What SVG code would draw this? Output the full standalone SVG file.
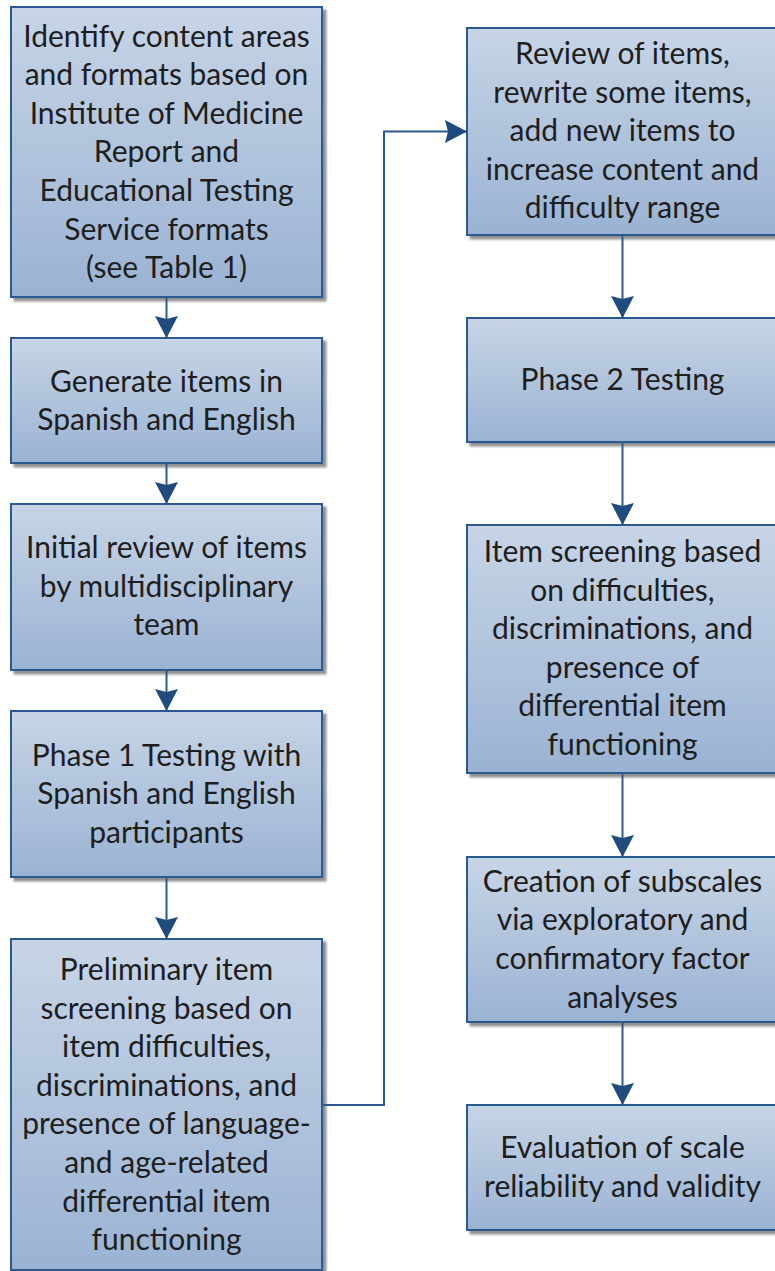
<svg xmlns="http://www.w3.org/2000/svg" width="775" height="1271" viewBox="0 0 775 1271">
<defs>
<linearGradient id="g" x1="0" y1="0" x2="0" y2="1">
<stop offset="0" stop-color="#c7d5e6"/>
<stop offset="1" stop-color="#9ab3d3"/>
</linearGradient>
<filter id="sh" x="-5%" y="-5%" width="115%" height="115%">
<feDropShadow dx="3.5" dy="3.5" stdDeviation="1.2" flood-color="#555555" flood-opacity="0.65"/>
</filter>
<marker id="ah" viewBox="0 0 22 23" refX="22" refY="11.5" markerWidth="22" markerHeight="23" markerUnits="userSpaceOnUse" orient="auto">
<path d="M0,0 L22,11.5 L0,23 L3,11.5 z" fill="#1f4b7e"/>
</marker>
<style>
.box{fill:url(#g);stroke:#2c5a8f;stroke-width:2;filter:url(#sh)}
.t{font-family:Lato,"Liberation Sans",sans-serif;font-size:30px;fill:#1e1e1e;text-anchor:middle}
.c{fill:none;stroke:#2c5a8f;stroke-width:2}
</style>
</defs>
<g id="n1"><rect class="box" x="11" y="7" width="311" height="290"/>
<text class="t"><tspan x="166.5" y="46.5">Identify content areas</tspan><tspan x="166.5" y="85.1">and formats based on</tspan><tspan x="166.5" y="123.7">Institute of Medicine</tspan><tspan x="166.5" y="162.3">Report and</tspan><tspan x="166.5" y="200.9">Educational Testing</tspan><tspan x="166.5" y="239.5">Service formats</tspan><tspan x="166.5" y="278.1">(see Table 1)</tspan></text></g>
<g id="n2"><rect class="box" x="11" y="338" width="311" height="125"/>
<text class="t"><tspan x="166.5" y="391.5">Generate items in</tspan><tspan x="166.5" y="430.1">Spanish and English</tspan></text></g>
<g id="n3"><rect class="box" x="11" y="504" width="311" height="166"/>
<text class="t"><tspan x="166.5" y="558">Initial review of items</tspan><tspan x="166.5" y="596.6">by multidisciplinary</tspan><tspan x="166.5" y="635.2">team</tspan></text></g>
<g id="n4"><rect class="box" x="11" y="711" width="311" height="166"/>
<text class="t"><tspan x="166.5" y="765.5">Phase 1 Testing with</tspan><tspan x="166.5" y="804.1">Spanish and English</tspan><tspan x="166.5" y="842.7">participants</tspan></text></g>
<g id="n5"><rect class="box" x="11" y="939" width="311" height="331"/>
<text class="t"><tspan x="166.5" y="980">Preliminary item</tspan><tspan x="166.5" y="1018.6">screening based on</tspan><tspan x="166.5" y="1057.2">item difficulties,</tspan><tspan x="166.5" y="1095.8">discriminations, and</tspan><tspan x="166.5" y="1134.4">presence of language-</tspan><tspan x="166.5" y="1173">and age-related</tspan><tspan x="166.5" y="1211.6">differential item</tspan><tspan x="166.5" y="1250.2">functioning</tspan></text></g>
<g id="n6"><rect class="box" x="467" y="28" width="311" height="207"/>
<text class="t"><tspan x="622.5" y="64">Review of items,</tspan><tspan x="622.5" y="102.6">rewrite some items,</tspan><tspan x="622.5" y="141.2">add new items to</tspan><tspan x="622.5" y="179.8">increase content and</tspan><tspan x="622.5" y="218.4">difficulty range</tspan></text></g>
<g id="n7"><rect class="box" x="467" y="318" width="311" height="124"/>
<text class="t"><tspan x="622.5" y="390">Phase 2 Testing</tspan></text></g>
<g id="n8"><rect class="box" x="467" y="525" width="311" height="248"/>
<text class="t"><tspan x="622.5" y="562">Item screening based</tspan><tspan x="622.5" y="600.6">on difficulties,</tspan><tspan x="622.5" y="639.2">discriminations, and</tspan><tspan x="622.5" y="677.8">presence of</tspan><tspan x="622.5" y="716.4">differential item</tspan><tspan x="622.5" y="755">functioning</tspan></text></g>
<g id="n9"><rect class="box" x="467" y="857" width="311" height="165"/>
<text class="t"><tspan x="622.5" y="891.7">Creation of subscales</tspan><tspan x="622.5" y="930.3">via exploratory and</tspan><tspan x="622.5" y="968.9">confirmatory factor</tspan><tspan x="622.5" y="1007.5">analyses</tspan></text></g>
<g id="n10"><rect class="box" x="467" y="1105" width="311" height="125"/>
<text class="t"><tspan x="622.5" y="1158">Evaluation of scale</tspan><tspan x="622.5" y="1196.6">reliability and validity</tspan></text></g>
<g id="connectors">
<path class="c" d="M166.5,297 V338" marker-end="url(#ah)"/>
<path class="c" d="M166.5,463 V504" marker-end="url(#ah)"/>
<path class="c" d="M166.5,670 V711" marker-end="url(#ah)"/>
<path class="c" d="M166.5,877 V939" marker-end="url(#ah)"/>
<path class="c" d="M322,1105 H384 V131.5 H467" marker-end="url(#ah)"/>
<path class="c" d="M622.5,235 V318" marker-end="url(#ah)"/>
<path class="c" d="M622.5,442 V525" marker-end="url(#ah)"/>
<path class="c" d="M622.5,773 V857" marker-end="url(#ah)"/>
<path class="c" d="M622.5,1022 V1105" marker-end="url(#ah)"/>
</g>
</svg>
